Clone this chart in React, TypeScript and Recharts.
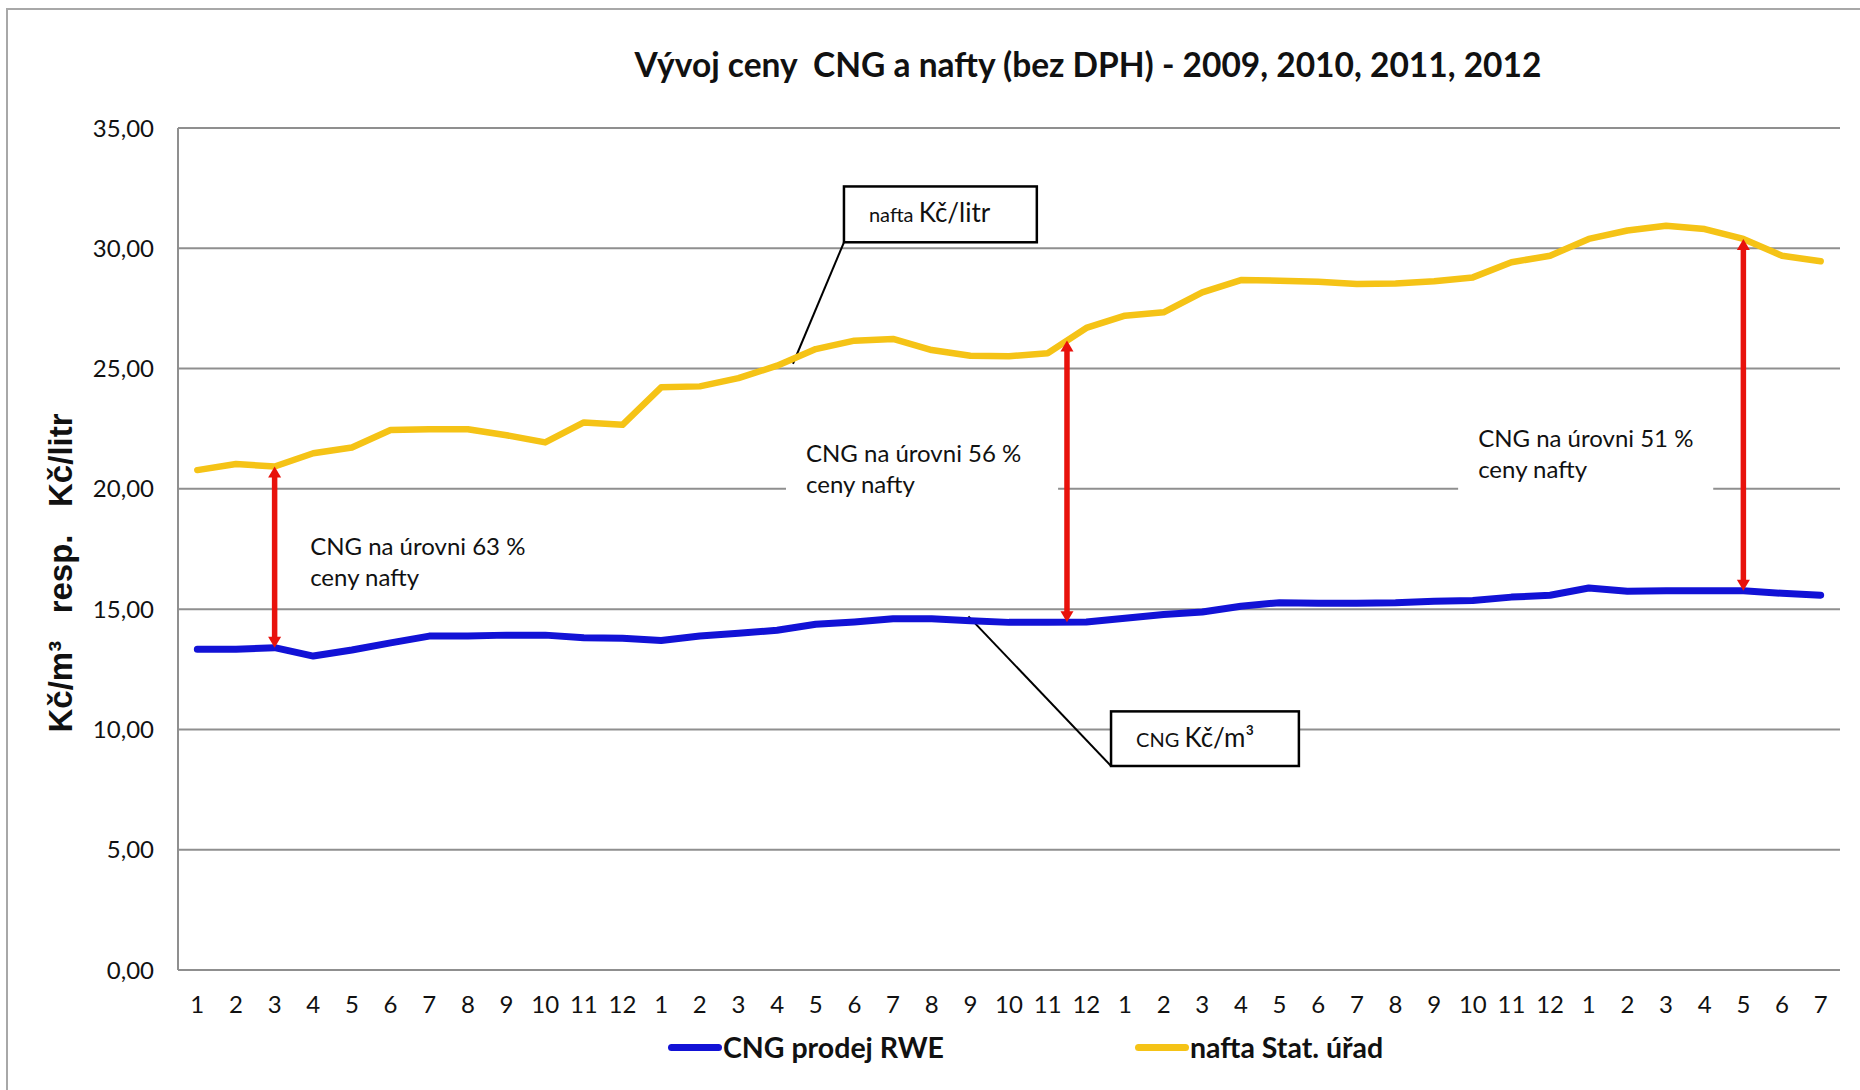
import React from 'react';
import { LineChart, Line, XAxis, YAxis, CartesianGrid, Legend, ReferenceLine, ReferenceArea } from 'recharts';

// months 1/2009 .. 7/2012
const monthLabels = [
  '1', '2', '3', '4', '5', '6', '7', '8', '9', '10', '11', '12',
  '1', '2', '3', '4', '5', '6', '7', '8', '9', '10', '11', '12',
  '1', '2', '3', '4', '5', '6', '7', '8', '9', '10', '11', '12',
  '1', '2', '3', '4', '5', '6', '7',
];

// CNG prodej RWE (Kč/m3)
const cngRwe = [
  13.33, 13.33, 13.4, 13.05, 13.3, 13.6, 13.88, 13.88, 13.92, 13.92, 13.81, 13.79,
  13.7, 13.88, 14.0, 14.12, 14.37, 14.47, 14.6, 14.6, 14.52, 14.45, 14.45, 14.47,
  14.62, 14.78, 14.88, 15.12, 15.27, 15.25, 15.25, 15.27, 15.33, 15.36, 15.5, 15.58,
  15.88, 15.74, 15.76, 15.76, 15.76, 15.66, 15.58,
];

// nafta Stat. úřad (Kč/litr)
const naftaStat = [
  20.78, 21.03, 20.93, 21.48, 21.72, 22.45, 22.48, 22.48, 22.23, 21.93, 22.76, 22.66,
  24.22, 24.26, 24.6, 25.12, 25.81, 26.16, 26.23, 25.77, 25.53, 25.51, 25.64, 26.69,
  27.2, 27.34, 28.17, 28.68, 28.65, 28.61, 28.52, 28.54, 28.63, 28.79, 29.42, 29.69,
  30.39, 30.74, 30.94, 30.8, 30.39, 29.69, 29.46,
];

const yTicks = [0, 5, 10, 15, 20, 25, 30, 35];

const gapTexts = ['CNG na úrovni 63 %', 'CNG na úrovni 56 %', 'CNG na úrovni 51 %'];

const data = monthLabels.map((m, k) => ({ i: k + 1, month: m, cng: cngRwe[k], nafta: naftaStat[k] }));
const xTicks = data.map((d) => d.i);

// red arrows: from diesel price down to CNG price
const gapArrows = [
  { x: 3, top: naftaStat[2], bottom: cngRwe[2] },
  { x: 23.5, top: (naftaStat[22] + naftaStat[23]) / 2, bottom: (cngRwe[22] + cngRwe[23]) / 2 },
  { x: 41, top: naftaStat[40], bottom: cngRwe[40] },
];

// white text boxes (data coords)
const gapBoxes = [
  { x1: 3.66, x2: 9.87, y1: 18.6, y2: 15.45 },
  { x1: 16.23, x2: 23.27, y1: 22.43, y2: 19.53 },
  { x1: 33.62, x2: 40.22, y1: 23.06, y2: 19.73 },
];
const gapPad = [10, 20, 20];

const BLUE = '#1212d6';
const YELLOW = '#f5c316';
const RED = '#e8120c';
const GRID = '#8f8f8f';
const FONT = 'Lato, "Open Sans", sans-serif';

const Arrow = (p: any) => {
  const x = p.x1;
  const top = Math.min(p.y1, p.y2);
  const bot = Math.max(p.y1, p.y2);
  const hw = 6.5;
  const hh = 11;
  return (
    <g>
      <line x1={x} x2={x} y1={top + hh - 1} y2={bot - hh + 1} stroke={RED} strokeWidth={5.5} />
      <polygon points={`${x},${top} ${x - hw},${top + hh} ${x + hw},${top + hh}`} fill={RED} />
      <polygon points={`${x},${bot} ${x - hw},${bot - hh} ${x + hw},${bot - hh}`} fill={RED} />
    </g>
  );
};

const gapNote = (label: string, pad: number) => (p: any) => (
  <g>
    <rect x={p.x} y={p.y} width={p.width} height={p.height} fill="#fff" />
    <text x={p.x + pad} y={p.y + 32} fontSize={24} fontFamily={FONT} fill="#111">
      {label}
    </text>
    <text x={p.x + pad} y={p.y + 63} fontSize={24} fontFamily={FONT} fill="#111">
      ceny nafty
    </text>
  </g>
);

const callout = (small: string, big: React.ReactNode) => (p: any) => (
  <g>
    <rect x={p.x} y={p.y} width={p.width} height={p.height} fill="#fff" stroke="#000" strokeWidth={2.5} />
    <text x={p.x + 25} y={p.y + 36} fontFamily={FONT} fill="#111">
      <tspan fontSize={20}>{small} </tspan>
      <tspan fontSize={26}>{big}</tspan>
    </text>
  </g>
);

const YLabel = (props: any) => {
  const vb = props.viewBox;
  const x = vb.x - 6;
  const y = vb.y + vb.height / 2 + 24;
  return (
    <text
      x={x}
      y={y}
      transform={`rotate(-90 ${x} ${y})`}
      textAnchor="middle"
      style={{ whiteSpace: 'pre' }}
      fontFamily='"Liberation Sans", Arial, sans-serif'
      fontWeight={700}
      fontSize={33}
      fill="#111"
    >
      {'Kč/m³   resp.   Kč/litr'}
    </text>
  );
};

const renderLegend = (props: any) => (
  <div style={{ position: 'relative', width: 1860, height: 36 }}>
    {(props.payload || []).map((entry: any) => (
      <div
        key={entry.value}
        style={{
          position: 'absolute',
          left: entry.dataKey === 'cng' ? 668 : 1135,
          top: 0,
          height: 36,
          display: 'flex',
          alignItems: 'center',
        }}
      >
        <span style={{ display: 'inline-block', width: 54, height: 7, borderRadius: 4, background: entry.color }} />
        <span style={{ fontSize: 28.5, fontWeight: 700, fontFamily: FONT, color: '#111', marginLeft: 1 }}>{entry.value}</span>
      </div>
    ))}
  </div>
);

export default function App() {
  return (
    <div style={{ position: 'absolute', left: 0, top: 0, width: 1860, height: 1090, overflow: 'hidden', background: '#fff' }}>
      <div style={{ position: 'absolute', left: 6, top: 8, width: 1900, height: 1100, border: '2px solid #a8a8a8' }} />
      <div
        style={{
          position: 'absolute',
          left: 1088,
          top: 43,
          transform: 'translateX(-50%)',
          whiteSpace: 'pre',
          fontFamily: FONT,
          fontWeight: 700,
          fontSize: 33.5,
          lineHeight: '42px',
          color: '#111',
        }}
      >
        {'Vývoj ceny  CNG a nafty (bez DPH) - 2009, 2010, 2011, 2012'}
      </div>
      <div style={{ position: 'absolute', left: 0, top: 0 }}>
        <LineChart width={1860} height={1090} data={data} margin={{ top: 128, right: 20, bottom: 25, left: 78 }}>
          <CartesianGrid vertical={false} stroke={GRID} strokeWidth={2} />
          <XAxis
            type="number"
            dataKey="i"
            domain={[0.5, 43.5]}
            ticks={xTicks}
            interval={0}
            tickFormatter={(v: number) => monthLabels[v - 1]}
            tickLine={false}
            tickSize={0}
            tickMargin={26}
            height={59}
            axisLine={{ stroke: GRID, strokeWidth: 2 }}
            tick={{ fontSize: 24, fill: '#111', fontFamily: FONT }}
          />
          <YAxis
            type="number"
            domain={[0, 35]}
            ticks={yTicks}
            width={100}
            tickLine={false}
            tickSize={0}
            tickMargin={24}
            axisLine={{ stroke: GRID, strokeWidth: 2 }}
            tick={{ fontSize: 24, fill: '#111', fontFamily: FONT }}
            tickFormatter={(v: number) => v.toFixed(2).replace('.', ',')}
            label={<YLabel />}
          />
          {gapBoxes.map((b, k) => (
            <ReferenceArea key={'gb' + k} x1={b.x1} x2={b.x2} y1={b.y1} y2={b.y2} shape={gapNote(gapTexts[k], gapPad[k])} />
          ))}
          <ReferenceArea x1={17.73} x2={22.72} y1={32.57} y2={30.25} shape={callout('nafta', 'Kč/litr')} />
          <ReferenceArea x1={24.64} x2={29.5} y1={10.75} y2={8.48} shape={callout('CNG', 'Kč/m³')} />
          <ReferenceLine segment={[{ x: 17.73, y: 30.25 }, { x: 16.41, y: 25.2 }]} stroke="#000" strokeWidth={2} />
          <ReferenceLine segment={[{ x: 24.64, y: 8.48 }, { x: 20.95, y: 14.7 }]} stroke="#000" strokeWidth={2} />
          <Line
            type="linear"
            dataKey="cng"
            name="CNG prodej RWE"
            stroke={BLUE}
            strokeWidth={7}
            strokeLinejoin="round"
            strokeLinecap="round"
            dot={false}
            isAnimationActive={false}
          />
          <Line
            type="linear"
            dataKey="nafta"
            name="nafta Stat. úřad"
            stroke={YELLOW}
            strokeWidth={6.5}
            strokeLinejoin="round"
            strokeLinecap="round"
            dot={false}
            isAnimationActive={false}
          />
          {gapArrows.map((a, k) => (
            <ReferenceLine
              key={'ga' + k}
              segment={[{ x: a.x, y: a.top }, { x: a.x, y: a.bottom }]}
              stroke={RED}
              shape={Arrow}
            />
          ))}
          <Legend verticalAlign="bottom" wrapperStyle={{ left: 0, width: 1860, bottom: 25, height: 36 }} content={renderLegend} />
        </LineChart>
      </div>
    </div>
  );
}
